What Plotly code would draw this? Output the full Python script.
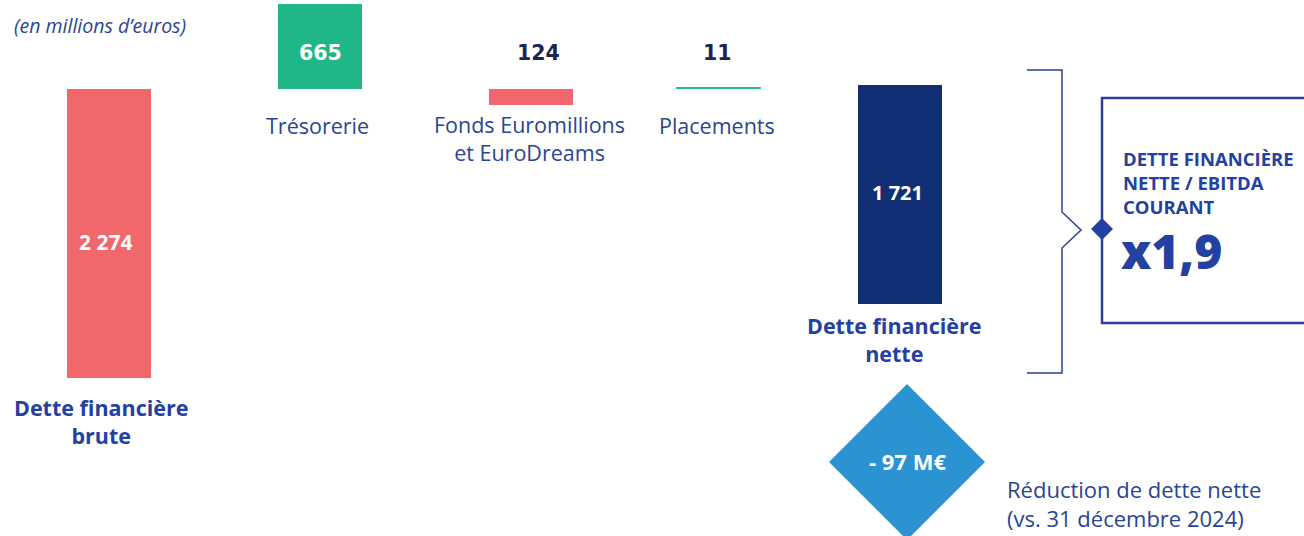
import plotly.graph_objects as go

# data (millions d'euros)
categories = ["Dette financière<br>brute", "Trésorerie", "Fonds Euromillions<br>et EuroDreams",
              "Placements", "Dette financière<br>nette"]
values = [2274, 665, -124, 11, 1721]
label_values = [2274, 665, 124, 11, 1721]
ratio_title = "DETTE FINANCIÈRE<br>NETTE / EBITDA<br>COURANT"
ratio_label = "x1,9"
reduction = -97

# layout helpers (page is 1304 x 536, no margins)
W, H = 1304, 536
x_pos = [109, 320, 531, 719, 900]
bases = [0, 2274, 2274, 2274, 585]
colors = ["#F2676B", "#1FB787", "#F2676B", "#1FB787", "#102F75"]
line_w = [0, 0, 0, 1, 0]

px_per_unit = 289 / 2274
y_zero_px = 378
y_range = [-(H - y_zero_px) / px_per_unit, y_zero_px / px_per_unit]


def yp(py):
    return 1 - py / H


def xp(px):
    return px / W


def fmt(v):
    return f"{v:,}".replace(",", " ")


TXT = "#2A4592"
BOLD = "#2341A0"
DARK = "#1C2456"
FONT = "Open Sans"

fig = go.Figure()
fig.add_trace(go.Bar(
    x=x_pos, y=values, base=bases, width=84,
    marker=dict(color=colors, line=dict(color=colors, width=line_w)),
    hoverinfo="skip", showlegend=False,
))

ann = []
# value labels
val_py = [242, 53, 53, 53, 193]
val_x = [105, 320, 538, 717, 897]
for i, v in enumerate(label_values):
    if i in (0, 4):
        f = dict(family=FONT, size=21 if i == 0 else 20, color="white", weight=700)
    elif i == 1:
        f = dict(family="DejaVu Sans", size=20.5, color="white", weight=700)
    else:
        f = dict(family="DejaVu Sans", size=20.5, color=DARK, weight=700)
    ann.append(dict(x=val_x[i], y=yp(val_py[i]), yref="paper", text=fmt(v),
                    showarrow=False, font=f, xanchor="center", yanchor="middle"))

# category labels
cat_py = [421, 126, 139, 126, 339]
cat_x = [101, 317, 529, 717, 894]
for i, c in enumerate(categories):
    bold = i in (0, 4)
    ann.append(dict(x=cat_x[i], y=yp(cat_py[i]), yref="paper", text=c, showarrow=False,
                    font=dict(family=FONT, size=21.5,
                              color=BOLD if bold else TXT, weight=700 if bold else 400),
                    xanchor="center", yanchor="middle", align="center"))

ann.append(dict(x=xp(12), y=yp(26), xref="paper", yref="paper", text="<i>(en millions d’euros)</i>",
                showarrow=False, font=dict(family=FONT, size=19.5, color=TXT),
                xanchor="left", yanchor="middle"))

# ratio box text
ann.append(dict(x=xp(1121), y=yp(182), xref="paper", yref="paper", text=ratio_title,
                showarrow=False, align="left",
                font=dict(family=FONT, size=18.5, color=BOLD, weight=700),
                xanchor="left", yanchor="middle"))
ann.append(dict(x=xp(1119), y=yp(250), xref="paper", yref="paper", text=ratio_label,
                showarrow=False, font=dict(family=FONT, size=48, color=BOLD, weight=800),
                xanchor="left", yanchor="middle"))

# reduction diamond text
ann.append(dict(x=xp(907), y=yp(461), xref="paper", yref="paper",
                text=f"- {abs(reduction)} M€", showarrow=False,
                font=dict(family=FONT, size=22, color="white", weight=700),
                xanchor="center", yanchor="middle"))
ann.append(dict(x=xp(1005), y=yp(503), xref="paper", yref="paper",
                text="Réduction de dette nette<br>(vs. 31 décembre 2024)", showarrow=False,
                align="left", font=dict(family=FONT, size=22, color=TXT),
                xanchor="left", yanchor="middle"))

shapes = []
# bracket
bx0, bx1, tip = 1027, 1062, 1081
pts = [(bx0, 70), (bx1, 70), (bx1, 212), (tip, 230), (bx1, 248), (bx1, 373), (bx0, 373)]
path = "M " + " L ".join(f"{xp(a)},{yp(b)}" for a, b in pts)
shapes.append(dict(type="path", xref="paper", yref="paper", path=path,
                   line=dict(color="#2B3F93", width=1.5)))
# box
shapes.append(dict(type="rect", xref="paper", yref="paper",
                   x0=xp(1102), x1=xp(1310), y0=yp(323), y1=yp(98),
                   line=dict(color="#2A3F97", width=2.5)))


def diamond(cx, cy, rx, ry):
    p = [(cx, cy - ry), (cx + rx, cy), (cx, cy + ry), (cx - rx, cy)]
    return "M " + " L ".join(f"{xp(a)},{yp(b)}" for a, b in p) + " Z"


shapes.append(dict(type="path", xref="paper", yref="paper", path=diamond(1102, 229, 11, 11),
                   fillcolor=BOLD, line=dict(width=0)))
shapes.append(dict(type="path", xref="paper", yref="paper", path=diamond(907, 462, 78, 78),
                   fillcolor="#2B93D1", line=dict(width=0), layer="below"))

fig.update_layout(
    width=W, height=H, margin=dict(l=0, r=0, t=0, b=0),
    paper_bgcolor="white", plot_bgcolor="white",
    xaxis=dict(range=[0, W], visible=False, fixedrange=True),
    yaxis=dict(range=y_range, visible=False, fixedrange=True),
    annotations=ann, shapes=shapes, bargap=0,
)

fig.write_html("out.html", config={"displayModeBar": False},
               post_script="document.body.style.margin='0';document.body.style.overflow='hidden';")
